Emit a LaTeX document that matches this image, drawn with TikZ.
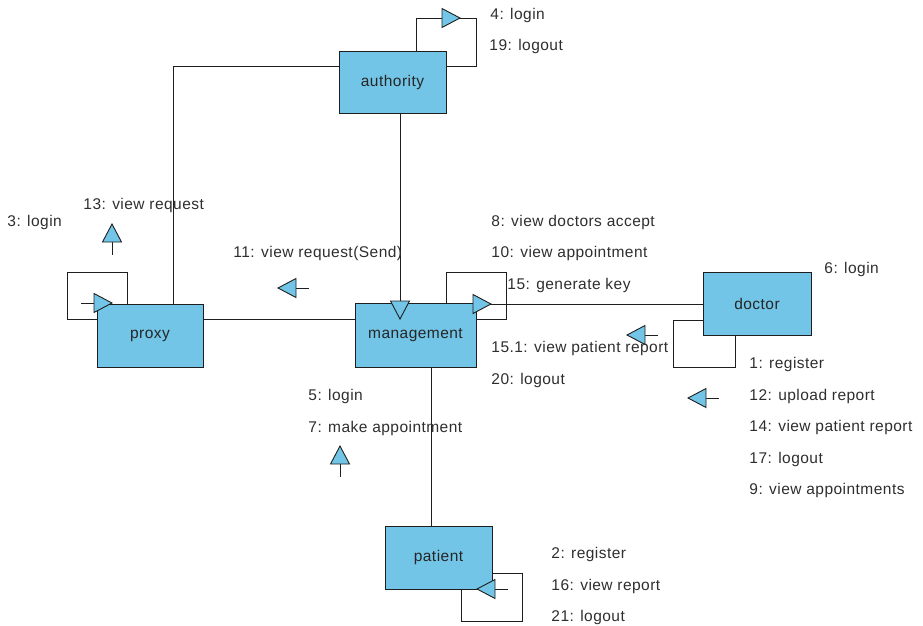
\documentclass[tikz,border=0pt]{standalone}
\usepackage{fontspec}
\setmainfont[LetterSpace=3]{Liberation Sans}
\definecolor{objblue}{HTML}{72C5E6}
\definecolor{edgegray}{HTML}{1E1E1E}
\definecolor{labelgray}{HTML}{2E2E2E}
\begin{document}
\begin{tikzpicture}[x=1pt,y=-1pt,
  every path/.style={line width=0.9pt, draw=edgegray},
  obj/.style={draw=edgegray, fill=objblue, line width=0.9pt, inner sep=0pt,
    font=\fontsize{15.5}{18}\selectfont, text=black!85},
  msg/.style={anchor=west, inner sep=0pt, text height=11pt, text depth=3pt,
    font=\fontsize{15.5}{18}\selectfont, text=labelgray},
  tri/.style={fill=objblue, draw=edgegray, line width=0.9pt, line join=miter},
  msgtip/.pic={
    \draw (-18,0) -- (-31,0);
    \filldraw[tri] (0,0) -- (-18,-9.5) -- (-18,9.5) -- cycle;
  },
  looptip/.pic={
    \filldraw[tri] (0,0) -- (-18,-9.5) -- (-18,9.5) -- cycle;
  }]
\path[use as bounding box, draw=none] (0,0) rectangle (923,626);

% objects
\node[obj, minimum width=107pt, minimum height=62pt] (authority) at (392.5,82) {authority};
\node[obj, minimum width=106pt, minimum height=63pt] (proxy) at (150,335.5) {proxy};
\node[obj, minimum width=121pt, minimum height=64pt] (management) at (415.5,335) {management};
\node[obj, minimum width=108pt, minimum height=63pt] (doctor) at (757,303.5) {doctor};
\node[obj, minimum width=107pt, minimum height=63pt] (patient) at (438.5,557.5) {patient};

% links between objects
\draw (authority.west |- 0,66) -| (proxy.north -| 173,0);
\draw (authority.south -| 400,0) -- (management.north -| 400,0);
\draw (proxy.east |- 0,319) -- (management.west |- 0,319);
\draw (management.east |- 0,304) -- (doctor.west |- 0,304);
\draw (management.south -| 431,0) -- (patient.north -| 431,0);

% self links
\draw (authority.north -| 416,0) |- (476,18) |- (authority.east |- 0,66);
\draw (proxy.north -| 127,0) |- (67,272) |- (proxy.west |- 0,319);
\draw (management.north -| 446,0) |- (506,272) |- (management.east |- 0,319);
\draw (doctor.west |- 0,320) -| (673,367) -| (doctor.south -| 735,0);
\draw (patient.east |- 0,573) -| (522,621) -| (patient.south -| 461,0);

% message direction markers
\pic at (460,18) {looptip};
\pic at (112,303) {msgtip};
\pic[rotate=90] at (112,224) {msgtip};
\pic[rotate=180] at (278,288) {msgtip};
\pic[rotate=-90] at (400,319) {looptip};
\pic at (491,304) {looptip};
\pic[rotate=180] at (627,335) {msgtip};
\pic[rotate=180] at (688,398) {msgtip};
\pic[rotate=90] at (340,446) {msgtip};
\pic[rotate=180] at (477,589) {msgtip};

% message labels
\node[msg] (m4) at (490,16) {4: login};
\node[msg] (m19) at (489,47) {19: logout};
\node[msg] (m3) at (7,222) {3: login};
\node[msg] (m13) at (83,205) {13: view request};
\node[msg] (m11) at (233,253) {11: view request(Send)};
\node[msg] (m8) at (491,222) {8: view doctors accept};
\node[msg] (m10) at (491,253) {10: view appointment};
\node[msg] (m15) at (507,285) {15: generate key};
\node[msg] (m6) at (824,269) {6: login};
\node[msg] (m151) at (491,348) {15.1: view patient report};
\node[msg] (m20) at (491,380) {20: logout};
\node[msg] (m1) at (749,364) {1: register};
\node[msg] (m12) at (749,396) {12: upload report};
\node[msg] (m14) at (749,427) {14: view patient report};
\node[msg] (m17) at (749,459) {17: logout};
\node[msg] (m9) at (749,490) {9: view appointments};
\node[msg] (m5) at (308,396) {5: login};
\node[msg] (m7) at (308,428) {7: make appointment};
\node[msg] (m2) at (551,554) {2: register};
\node[msg] (m16) at (551,586) {16: view report};
\node[msg] (m21) at (551,617) {21: logout};
\end{tikzpicture}
\end{document}
